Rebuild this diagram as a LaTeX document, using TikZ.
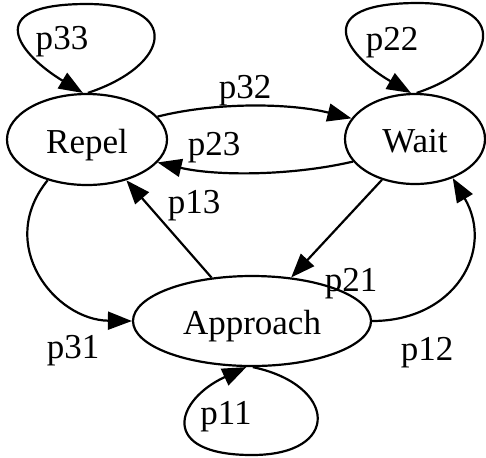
\documentclass[tikz,border=0pt]{standalone}
\usepackage{fontspec}
\setmainfont{Liberation Serif}
\newfontfamily\gvfont{Liberation Serif}
\usetikzlibrary{arrows.meta,shapes.geometric}
\begin{document}
\begin{tikzpicture}[x=0.5pt,y=-0.5pt,
  state/.style={ellipse,draw,line width=1.1pt,inner sep=0pt,font=\gvfont\fontsize{17.5}{20}\selectfont,text height=14.5pt,text depth=1pt},
  edge/.style={line width=1.1pt,-{Triangle[length=12pt,width=9pt]}},
  lbl/.style={anchor=base,inner sep=0pt,font=\gvfont\fontsize{17.5}{20}\selectfont}]
\useasboundingbox (0,0) rectangle (486,457);
\node[state,minimum width=80pt,minimum height=45.5pt] (Repel) at (87,139.5) {Repel};
\node[state,minimum width=70pt,minimum height=45pt] (Wait) at (415,139) {Wait};
\node[state,minimum width=119pt,minimum height=45pt] (Approach) at (252,321) {Approach};
% edges
\draw[edge] (Repel.18) .. controls +(60,-15) and +(-60,-15) .. (Wait.162);
\draw[edge] (Wait.200) .. controls +(-60,14) and +(60,14) .. (Repel.-18);
\draw[edge] (Approach.133) -- (Repel.-46);
\draw[edge] (Wait.231) -- (Approach.48);
\draw[edge] (Repel.226) .. controls (-5,245) and (55,320) .. (Approach.west);
\draw[edge] (Approach.east) .. controls (455,321) and (495,250) .. (Wait.-46);
% loops
\draw[edge] (Repel.89) .. controls (172,65) and (182,4) .. (87,4) .. controls (-22,4) and (20,55) .. (Repel.95);
\draw[edge] (Wait.88) .. controls (500,65) and (510,3) .. (418,3) .. controls (308,3) and (345,55) .. (Wait.95);
\draw[edge] (Approach.-89) .. controls (337,385) and (342,455) .. (252,455) .. controls (158,455) and (175,400) .. (Approach.-97);
% labels
\node[lbl] (l33) at (62,49) {p33};
\node[lbl] (l22) at (392,50) {p22};
\node[lbl] (l32) at (245,98) {p32};
\node[lbl] (l23) at (214,155) {p23};
\node[lbl] (l13) at (194,213) {p13};
\node[lbl] (l21) at (351,291) {p21};
\node[lbl] (l31) at (73,358) {p31};
\node[lbl] (l12) at (427,360) {p12};
\node[lbl] (l11) at (226,424) {p11};
\end{tikzpicture}
\end{document}
